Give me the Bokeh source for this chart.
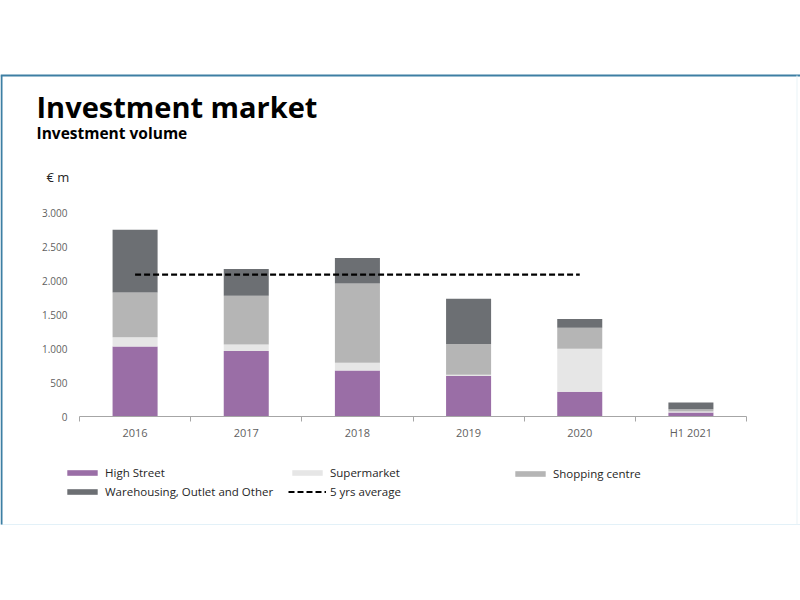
from bokeh.plotting import figure
from bokeh.models import (Range1d, LinearAxis, FixedTicker, Label, Legend, LegendItem,
                          Span, BoxAnnotation, ColumnDataSource)
from bokeh.embed import file_html
from bokeh.resources import INLINE

# ---------------- data ----------------
categories = ["2016", "2017", "2018", "2019", "2020", "H1 2021"]
high_street = [1030, 965, 675, 595, 365, 60]
supermarket = [135, 95, 115, 20, 630, 15]
shopping_centre = [660, 715, 1165, 450, 310, 30]
warehousing = [920, 395, 375, 665, 130, 100]
avg_5yrs = 2085
avg_span = ["2016", "2020"]
y_ticks = [0, 500, 1000, 1500, 2000, 2500, 3000]
y_tick_labels = ["0", "500", "1.000", "1.500", "2.000", "2.500", "3.000"]
series_names = ["High Street", "Supermarket", "Shopping centre", "Warehousing, Outlet and Other"]
avg_name = "5 yrs average"

# ---------------- layout ----------------
W, H = 800, 600
x0_px = 79          # canvas x of category axis start
px_per_cat = 667 / 6
y0_px = 184         # canvas y (from bottom) of value 0
px_per_val = 204 / 3000

x_start = -x0_px / px_per_cat
x_end = (W - x0_px) / px_per_cat
y_start = -y0_px / px_per_val
y_end = (H - y0_px) / px_per_val

p = figure(width=W, height=H, title=None, output_backend="svg", toolbar_location=None,
           x_range=Range1d(x_start, x_end), y_range=Range1d(y_start, y_end),
           x_axis_location=None, y_axis_location=None,
           min_border=0, min_border_left=0, min_border_right=0,
           min_border_top=0, min_border_bottom=0)
p.outline_line_color = None
p.xgrid.visible = False
p.ygrid.visible = False
p.background_fill_color = "white"
p.border_fill_color = "white"

centers = [i + 0.5 for i in range(len(categories))]
src = ColumnDataSource(dict(x=centers, hs=high_street, sm=supermarket,
                            sc=shopping_centre, wh=warehousing))
colors = ["#9a6ea6", "#e6e6e6", "#b5b5b5", "#6c6f73"]
rs = p.vbar_stack(["hs", "sm", "sc", "wh"], x="x", width=0.405, color=colors,
                  line_color=None, source=src)

i0, i1 = categories.index(avg_span[0]), categories.index(avg_span[1])
avg_r = p.line(x=[centers[i0], centers[i1]], y=[avg_5yrs, avg_5yrs],
               line_color="black", line_width=2.2, line_dash="6 3")

# x axis: line + boundary ticks
xa = LinearAxis(fixed_location=0, bounds=(0, len(categories)),
                ticker=FixedTicker(ticks=list(range(len(categories) + 1)), minor_ticks=[]))
xa.axis_line_color = "#a6a6a6"
xa.axis_line_width = 1.2
xa.major_tick_line_color = "#a6a6a6"
xa.major_tick_out = 5
xa.major_tick_in = 0
xa.minor_tick_line_color = None
xa.major_label_text_font_size = "0px"
xa.major_label_overrides = {i: "" for i in range(len(categories) + 1)}
p.add_layout(xa, "below")

# x axis: category labels
xl = LinearAxis(fixed_location=0,
                ticker=FixedTicker(ticks=centers, minor_ticks=[]))
xl.axis_line_color = None
xl.major_tick_line_color = None
xl.minor_tick_line_color = None
xl.major_tick_out = 0
xl.major_tick_in = 0
xl.major_label_standoff = 8
xl.major_label_overrides = {c: lab for c, lab in zip(centers, categories)}
xl.major_label_text_font = "Open Sans"
xl.major_label_text_font_size = "11px"
xl.major_label_text_color = "#5f5f5f"
p.add_layout(xl, "below")

# y axis
ya = LinearAxis(fixed_location=0, ticker=FixedTicker(ticks=y_ticks, minor_ticks=[]))
ya.axis_line_color = None
ya.major_tick_line_color = None
ya.minor_tick_line_color = None
ya.major_tick_out = 0
ya.major_tick_in = 0
ya.major_label_standoff = 12
ya.major_label_overrides = {t: lab for t, lab in zip(y_ticks, y_tick_labels)}
ya.major_label_text_font = "Open Sans"
ya.major_label_text_font_size = "10px"
ya.major_label_text_color = "#5f5f5f"
p.add_layout(ya, "left")

# titles
p.add_layout(Label(x=36, y=494, x_units="screen", y_units="screen", text="Investment market",
                   text_font="Open Sans", text_font_style="bold", text_font_size="29px",
                   text_color="black", text_baseline="alphabetic"))
p.add_layout(Label(x=36, y=468, x_units="screen", y_units="screen", text="Investment volume",
                   text_font="Open Sans", text_font_style="bold", text_font_size="15.5px",
                   text_color="black", text_baseline="alphabetic"))
p.add_layout(Label(x=46, y=424, x_units="screen", y_units="screen", text="€ m",
                   text_font="Open Sans", text_font_size="13px",
                   text_color="#262626", text_baseline="alphabetic"))

# frame lines
p.add_layout(Span(location=H - 75, location_units="screen", dimension="width",
                  line_color="#3d7fa3", line_width=2))
p.add_layout(Span(location=H - 524, location_units="screen", dimension="width",
                  line_color="#e3f1f8", line_width=1))
p.add_layout(BoxAnnotation(left=0, right=2, bottom=H - 524, top=H - 75,
                           left_units="screen", right_units="screen",
                           bottom_units="screen", top_units="screen",
                           fill_color="#3d7fa3", fill_alpha=1, line_color=None))
p.add_layout(BoxAnnotation(left=796, right=797, bottom=H - 524, top=H - 75,
                           left_units="screen", right_units="screen",
                           bottom_units="screen", top_units="screen",
                           fill_color="#eaf4f8", fill_alpha=1, line_color=None))


def make_legend(items, x, y):
    lg = Legend(items=items, location=(x, y), orientation="vertical")
    lg.background_fill_alpha = 0
    lg.border_line_color = None
    lg.padding = 0
    lg.margin = 0
    lg.spacing = 4
    lg.glyph_width = 38
    lg.glyph_height = 7
    lg.label_height = 14
    lg.label_standoff = 4
    lg.label_text_font = "Open Sans"
    lg.label_text_font_size = "11.5px"
    lg.label_text_color = "#262626"
    lg.label_text_baseline = "middle"
    p.add_layout(lg, "center")


make_legend([LegendItem(label=series_names[0], renderers=[rs[0]]),
             LegendItem(label=series_names[3], renderers=[rs[3]])], 63, 101)
make_legend([LegendItem(label=series_names[1], renderers=[rs[1]]),
             LegendItem(label=avg_name, renderers=[avg_r])], 288, 101)
make_legend([LegendItem(label=series_names[2], renderers=[rs[2]])], 511, 119)

open("out.html", "w").write(file_html(p, INLINE))
